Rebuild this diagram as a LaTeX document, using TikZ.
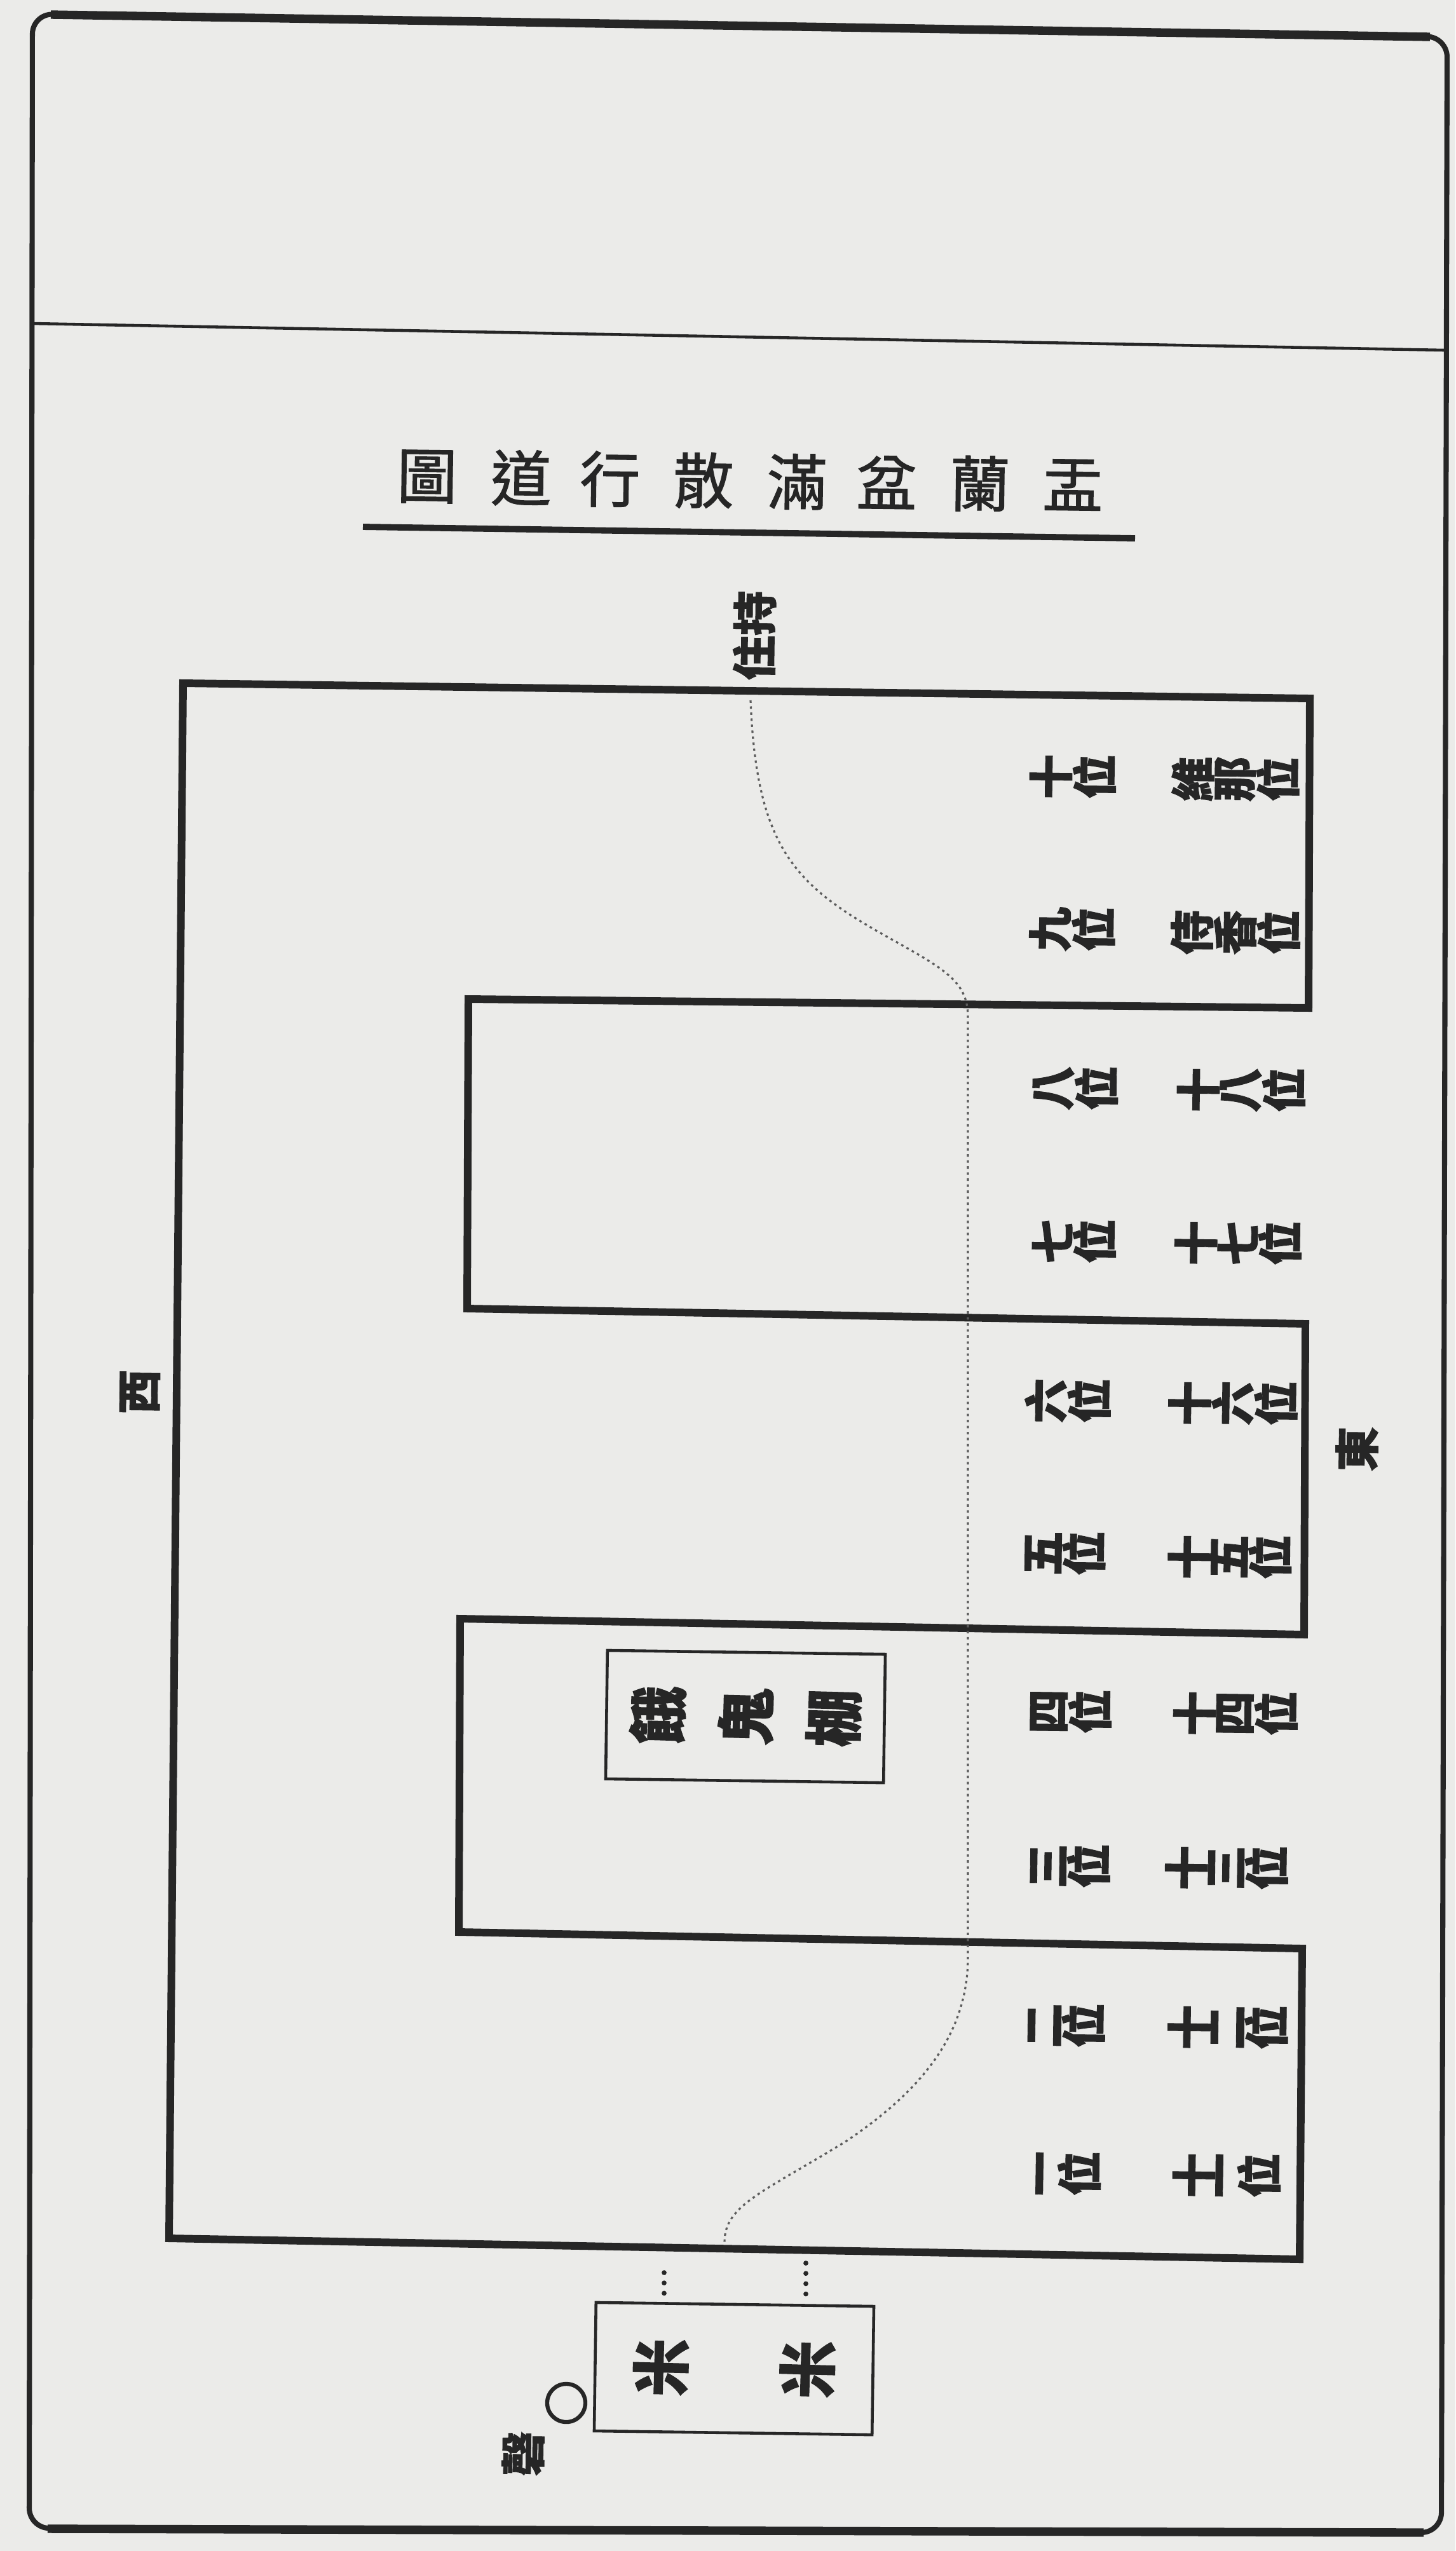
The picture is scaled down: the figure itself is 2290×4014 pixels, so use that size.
\documentclass[tikz,border=0pt]{standalone}
\usepackage{fontspec}
\usepackage{graphicx}
\newfontfamily\cjk[FakeBold=1.3]{Noto Sans CJK TC}
\definecolor{paper}{RGB}{235,235,233}
\definecolor{ink}{RGB}{38,38,38}
\newcommand{\rgl}[1]{\rotatebox{89.2}{#1}}
\tikzset{
  outline/.style={draw=ink, line width=3.4pt, line join=miter},
  pageframe/.style={draw=ink, line width=2.3pt},
  lbl/.style={font=\cjk\bfseries\fontsize{20}{20}\selectfont, text=ink, inner sep=0pt},
  ttl/.style={font=\cjk\fontsize{27}{27}\selectfont, text=ink, inner sep=0pt, rotate=-0.8},
  framebox/.style={draw=ink, line width=1.3pt, minimum width=4.37cm, minimum height=2.02cm,
    inner sep=0pt, font=\cjk\bfseries\fontsize{26}{26}\selectfont, text=ink, rotate=-0.8},
  route/.style={draw=ink!75, line width=0.9pt, dash pattern=on 1.1pt off 1.6pt},
  dotcol/.style={draw=ink, line width=2.2pt, line cap=round, dash pattern=on 0pt off 4.6pt},
}
\begin{document}
\begin{tikzpicture}[x=0.01cm,y=-0.01cm]
\fill[paper] (0,0) rectangle (2290,4014);
\useasboundingbox (0,0) rectangle (2290,4014);

% page frame
\draw[pageframe, rounded corners=9pt] (51,22) -- (2277,58) -- (2268,3985) -- (46,3978) -- cycle;
\draw[draw=ink, line width=3.8pt] (80,23) -- (2250,58);
\draw[draw=ink, line width=3.8pt] (75,3979) -- (2240,3985);
\draw[draw=ink, line width=1.3pt] (51,509) -- (2272,551);

% title
\node[ttl] (t8) at (672,750) {圖};
\node[ttl] (t7) at (820,752) {道};
\node[ttl] (t6) at (960,754) {行};
\node[ttl] (t5) at (1107,756) {散};
\node[ttl] (t4) at (1254,758) {滿};
\node[ttl] (t3) at (1395,759) {盆};
\node[ttl] (t2) at (1542,761) {蘭};
\node[ttl] (t1) at (1688,763) {盂};
\draw[draw=ink, line width=2.8pt] (571,829) -- (1786,847);

% main outline
\draw[outline] (288,1075) -- (2061,1099) -- (2059,1586) -- (737,1572) -- (735,2059)
  -- (2054,2083) -- (2052,2572) -- (724,2547) -- (722,3040) -- (2049,3066)
  -- (2045,3555) -- (266,3522) -- cycle;

% labels
\node[lbl, rotate=89.2] (zhuchi) at (1187,1000) {住持};
\node[lbl] (west) at (220,2190) {\rgl{西}};
\node[lbl] (east) at (2135,2280) {\rgl{東}};

\node[lbl] (p10) at (1688,1222) {\rgl{十}\rgl{位}};
\node[lbl] (p9)  at (1687,1462) {\rgl{九}\rgl{位}};
\node[lbl] (p8)  at (1692,1712) {\rgl{八}\rgl{位}};
\node[lbl] (p7)  at (1690,1953) {\rgl{七}\rgl{位}};
\node[lbl] (p6)  at (1680,2204) {\rgl{六}\rgl{位}};
\node[lbl] (p5)  at (1676,2444) {\rgl{五}\rgl{位}};
\node[lbl] (p4)  at (1685,2693) {\rgl{四}\rgl{位}};
\node[lbl] (p3)  at (1684,2936) {\rgl{三}\rgl{位}};
\node[lbl] (p2)  at (1678,3187) {\rgl{二}\rgl{位}};
\node[lbl] (p1)  at (1681,3420) {\rgl{一}\rgl{位}};

\node[lbl] (ina)  at (1944,1226) {\rgl{維}\rgl{那}\rgl{位}};
\node[lbl] (jiko) at (1944,1467) {\rgl{侍}\rgl{香}\rgl{位}};
\node[lbl] (p18) at (1953,1715) {\rgl{十}\rgl{八}\rgl{位}};
\node[lbl] (p17) at (1948,1956) {\rgl{十}\rgl{七}\rgl{位}};
\node[lbl] (p16) at (1940,2208) {\rgl{十}\rgl{六}\rgl{位}};
\node[lbl] (p15) at (1935,2450) {\rgl{十}\rgl{五}\rgl{位}};
\node[lbl] (p14) at (1944,2696) {\rgl{十}\rgl{四}\rgl{位}};
\node[lbl] (p13) at (1930,2939) {\rgl{十}\rgl{三}\rgl{位}};
\node[lbl] (p12) at (1932,3190) {\rgl{十}\rgl{二}\rgl{位}};
\node[lbl] (p11) at (1930,3423) {\rgl{十}\rgl{一}\rgl{位}};

% central altar box
\node[framebox] (altar) at (1173,2701) {\rgl{餓}\hspace{14pt}\rgl{鬼}\hspace{14pt}\rgl{棚}};

% rice box, bell
\node[framebox] (rice) at (1155,3727) {\rgl{米}\hspace{40.5pt}\rgl{米}};
\node[draw=ink, line width=1.8pt, circle, minimum size=0.6cm, inner sep=0pt] (ring) at (891,3781) {};
\node[lbl] (kei) at (823,3861) {\rgl{磬}};

% dotted marks between outline and rice box
\coordinate (da1) at (1045,3576);
\coordinate (da2) at (1268,3561);
\draw[dotcol] (da1) -- (rice.north -| da1);
\draw[dotcol] (da2) -- (rice.north -| da2);

% route of the procession
\coordinate (rs) at (1181,1102);
\coordinate (re) at (1140,3528);
\draw[route] (rs) .. controls (1190,1330) and (1250,1390) .. (1380,1465)
  .. controls (1480,1522) and (1523,1540) .. (1523,1600)
  -- (1523,3080)
  .. controls (1523,3200) and (1450,3290) .. (1330,3370)
  .. controls (1200,3450) and (1140,3470) .. (re);
\end{tikzpicture}
\end{document}
